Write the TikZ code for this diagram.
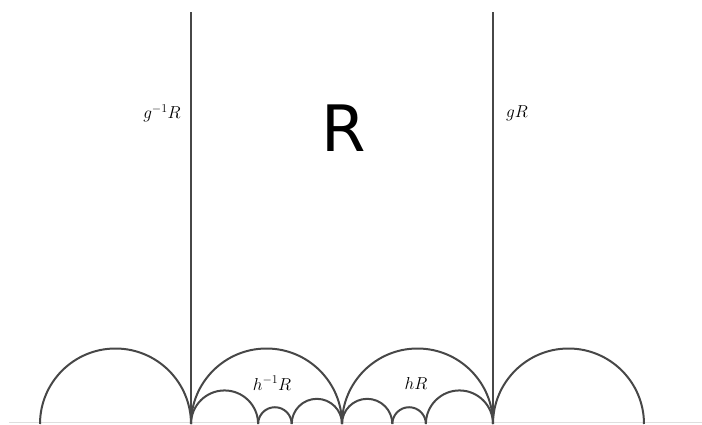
\documentclass[tikz,border=0pt]{standalone}
\usepackage{fontspec}
\newfontfamily\bigsans{DejaVu Sans}
\begin{document}
\begin{tikzpicture}[x=1pt,y=1pt,
  geo/.style={draw=black!72,line width=2pt},
  base/.style={draw=black!13,line width=0.8pt},
  lab/.style={font=\fontsize{18.5}{22}\selectfont}]
\useasboundingbox (0,0) rectangle (702,424);
\def\U{151}
\def\Y{0}
% baseline
\draw[base] (9,1.2) -- (702,1.2);
% vertical lines
\coordinate (gl) at (191,\Y);
\coordinate (gr) at (493,\Y);
\draw[geo] (gl) -- (191,412);
\draw[geo] (gr) -- (493,412);
% big semicircles
\draw[geo] (40,\Y) arc[start angle=180,end angle=0,radius=75.5];
\draw[geo] (191,\Y) arc[start angle=180,end angle=0,radius=75.5];
\draw[geo] (342,\Y) arc[start angle=180,end angle=0,radius=75.5];
\draw[geo] (493,\Y) arc[start angle=180,end angle=0,radius=75.5];
% small semicircles, left middle: [0,4/9],[4/9,2/3],[2/3,1]
\draw[geo] (191,\Y) arc[start angle=180,end angle=0,radius={\U*2/9}];
\draw[geo] ({191+\U*4/9},\Y) arc[start angle=180,end angle=0,radius={\U/9}];
\draw[geo] ({191+\U*2/3},\Y) arc[start angle=180,end angle=0,radius={\U/6}];
% small semicircles, right middle: [0,1/3],[1/3,5/9],[5/9,1]
\draw[geo] (342,\Y) arc[start angle=180,end angle=0,radius={\U/6}];
\draw[geo] ({342+\U/3},\Y) arc[start angle=180,end angle=0,radius={\U/9}];
\draw[geo] ({342+\U*5/9},\Y) arc[start angle=180,end angle=0,radius={\U*2/9}];
% labels
\node[lab] (ginv) at (162,311) {$g^{-1}R$};
\node[lab] (g) at (517,311) {$gR$};
\node[lab] (hinv) at (272,41) {$h^{-1}R$};
\node[lab] (h) at (416,41) {$hR$};
\node[font=\bigsans\fontsize{64}{70}\selectfont] (R) at (344,296) {R};
\end{tikzpicture}
\end{document}
